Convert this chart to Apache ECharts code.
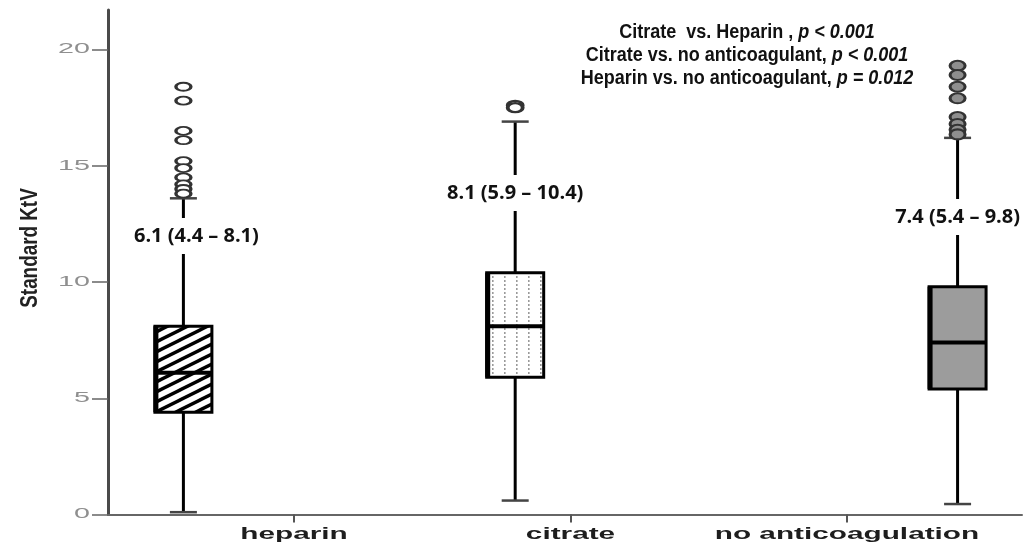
<!DOCTYPE html>
<html>
<head>
<meta charset="utf-8">
<script src="https://cdn.jsdelivr.net/npm/echarts@6/dist/echarts.min.js"></script>
<style>
  html, body { margin: 0; padding: 0; background: #fff; }
  #chart { width: 1023px; height: 547px; }
</style>
</head>
<body>
<div id="chart"></div>
<script>
// ---- data ----
const categories = ['heparin', 'citrate', 'no anticoagulation'];
const categoryTicks = [1, 2, 3];
const boxPositions = [0.6, 1.8, 3.4];
// [lower whisker, Q1, median, Q3, upper whisker]
const heparinBox = [0.1, 4.4, 6.1, 8.1, 13.6];
const citrateBox = [0.6, 5.9, 8.1, 10.4, 16.9];
const noAnticoagBox = [0.45, 5.4, 7.4, 9.8, 16.2];
const heparinOutliers = [18.4, 17.8, 16.5, 16.1, 15.2, 14.9, 14.5, 14.2, 14.0, 13.8];
const citrateOutliers = [17.6, 17.5];
const noAnticoagOutliers = [19.3, 18.9, 18.4, 17.9, 17.1, 16.8, 16.55, 16.35];
const yTicks = [0, 5, 10, 15, 20];
const yName = 'Standard KtV';
const statLines = [
  ['Citrate  vs. Heparin , ', 'p < 0.001'],
  ['Citrate vs. no anticoagulant, ', 'p < 0.001'],
  ['Heparin vs. no anticoagulant, ', 'p = 0.012']
];

// ---- layout / style ----
const BOX_W = 57;
const CAP_W = 27;
const valueLabelY = [236, 193, 217];
const statCenterX = 747;
const statLineY = [32, 55, 78];
const SANS_BOLD = '"Liberation Sans", Arial, sans-serif';

function makePattern(w, h, draw) {
  const c = document.createElement('canvas');
  c.width = w; c.height = h;
  const ctx = c.getContext('2d');
  ctx.fillStyle = '#fff';
  ctx.fillRect(0, 0, w, h);
  draw(ctx, w, h);
  return { image: c, repeat: 'repeat' };
}
// diagonal hatching
const hatchFill = makePattern(20, 10, (ctx, w, h) => {
  ctx.strokeStyle = '#000';
  ctx.lineWidth = 3.4;
  [-h, 0, h].forEach(off => {
    ctx.beginPath();
    ctx.moveTo(-2, h + off + 1);
    ctx.lineTo(w + 2, off - 1);
    ctx.stroke();
  });
});
// dotted vertical lines
const dottedFill = makePattern(12, 4, (ctx) => {
  ctx.fillStyle = '#9a9a9a';
  ctx.fillRect(0, 0, 1.6, 2);
});
const boxFills = [hatchFill, dottedFill, '#9c9c9c'];

const boxes = [heparinBox, citrateBox, noAnticoagBox];
const boxData = boxPositions.map((x, i) => [x].concat(boxes[i]));

function renderBox(params, api) {
  const x = api.value(0);
  const lo = api.coord([x, api.value(1)]);
  const q1 = api.coord([x, api.value(2)]);
  const md = api.coord([x, api.value(3)]);
  const q3 = api.coord([x, api.value(4)]);
  const hi = api.coord([x, api.value(5)]);
  const cx = lo[0];
  const half = BOX_W / 2;
  const capHalf = CAP_W / 2;
  const whisker = { stroke: '#000', lineWidth: 3 };
  const cap = { stroke: '#444', lineWidth: 2.5 };
  return {
    type: 'group',
    children: [
      { type: 'line', shape: { x1: cx, y1: hi[1], x2: cx, y2: q3[1] }, style: whisker },
      { type: 'line', shape: { x1: cx, y1: q1[1], x2: cx, y2: lo[1] }, style: whisker },
      { type: 'line', shape: { x1: cx - capHalf, y1: hi[1], x2: cx + capHalf, y2: hi[1] }, style: cap },
      { type: 'line', shape: { x1: cx - capHalf, y1: lo[1], x2: cx + capHalf, y2: lo[1] }, style: cap },
      {
        type: 'rect',
        shape: { x: cx - half, y: q3[1], width: BOX_W, height: q1[1] - q3[1] },
        style: { fill: boxFills[params.dataIndex], stroke: '#000', lineWidth: 3 }
      },
      { type: 'line', shape: { x1: cx - half + 1, y1: q3[1], x2: cx - half + 1, y2: q1[1] }, style: { stroke: '#000', lineWidth: 5 } },
      { type: 'line', shape: { x1: cx - half, y1: md[1], x2: cx + half, y2: md[1] }, style: { stroke: '#000', lineWidth: 4 } }
    ]
  };
}

function outlierSeries(i, values, fill, size, border) {
  return {
    type: 'scatter',
    z: 4,
    symbol: 'circle',
    symbolSize: size,
    itemStyle: { color: fill, borderColor: '#333', borderWidth: border, opacity: 1 },
    emphasis: { disabled: true },
    data: values.map(v => [boxPositions[i], v])
  };
}

const xMin = 0.3273, xMax = 3.633;

const chart = echarts.init(document.getElementById('chart'), null, { renderer: 'canvas' });
chart.setOption({
  animation: false,
  backgroundColor: '#fff',
  grid: { left: 108, right: 1, top: 10, bottom: 32.5 },
  xAxis: {
    type: 'value',
    min: xMin,
    max: xMax,
    axisLine: { show: true, onZero: true, lineStyle: { color: '#666', width: 2 } },
    axisTick: { show: true, customValues: categoryTicks, length: 8, lineStyle: { color: '#555', width: 2 } },
    axisLabel: { show: false, customValues: categoryTicks },
    splitLine: { show: false }
  },
  yAxis: {
    type: 'value',
    min: 0,
    max: 21.7,
    axisLine: { show: true, lineStyle: { color: '#4a4a4a', width: 3 } },
    axisTick: { show: true, customValues: yTicks, length: 16, lineStyle: { color: '#666', width: 1.5 } },
    axisLabel: { show: false, customValues: yTicks },
    splitLine: { show: false }
  },
  series: [
    {
      type: 'custom',
      z: 3,
      renderItem: renderBox,
      encode: { x: 0, y: [1, 2, 3, 4, 5] },
      data: boxData
    },
    outlierSeries(0, heparinOutliers, '#fff', [15, 8], 2.5),
    outlierSeries(1, citrateOutliers, '#fff', [15, 9], 3),
    outlierSeries(2, noAnticoagOutliers, '#8e8e8e', [15, 10], 2.5)
  ]
});

// ---- texts placed from the axis scales ----
const px = v => chart.convertToPixel({ xAxisIndex: 0 }, v);
const py = v => chart.convertToPixel({ yAxisIndex: 0 }, v);
const axisX = px(xMin);
const axisY = py(0);

const graphics = [];

yTicks.forEach(v => {
  graphics.push({
    type: 'text', x: axisX - 18, y: py(v), scaleX: 2.05, z: 50,
    style: { text: String(v), align: 'right', verticalAlign: 'middle', font: '14px "Liberation Sans", Arial, sans-serif', fill: '#8f8f8f' }
  });
});

categories.forEach((name, i) => {
  graphics.push({
    type: 'text', x: px(categoryTicks[i]), y: axisY + 19.5, scaleX: 1.75, z: 50,
    style: { text: name, align: 'center', verticalAlign: 'middle', font: 'bold 17px ' + SANS_BOLD, fill: '#1e1e1e' }
  });
});

boxes.forEach((b, i) => {
  const txt = b[2].toFixed(1) + ' (' + b[1].toFixed(1) + ' \u2013 ' + b[3].toFixed(1) + ')';
  graphics.push({
    type: 'text', x: px(boxPositions[i]) + (i === 0 ? 4 : 0), y: valueLabelY[i], z: 100,
    style: {
      text: txt, align: 'center', verticalAlign: 'middle',
      font: 'bold 20px "Open Sans", Lato, sans-serif', fill: '#111',
      backgroundColor: '#fff',
      padding: i === 0 ? [8, 4, 8, 22] : [8, 4, 8, 4]
    }
  });
});

statLines.forEach((line, i) => {
  graphics.push({
    type: 'text', x: statCenterX, y: statLineY[i], scaleX: 0.9, z: 60,
    style: {
      text: '{b|' + line[0] + '}{i|' + line[1] + '}',
      align: 'center', verticalAlign: 'middle',
      rich: {
        b: { font: 'bold 20px ' + SANS_BOLD, fill: '#111' },
        i: { font: 'italic bold 20px ' + SANS_BOLD, fill: '#111' }
      }
    }
  });
});

graphics.push({
  type: 'text', x: 31, y: 248, rotation: Math.PI / 2, scaleX: 0.82, z: 60,
  style: {
    text: yName, align: 'center', verticalAlign: 'middle',
    font: 'bold 23px ' + SANS_BOLD, fill: '#222'
  }
});

chart.setOption({ graphic: graphics });
</script>
</body>
</html>
